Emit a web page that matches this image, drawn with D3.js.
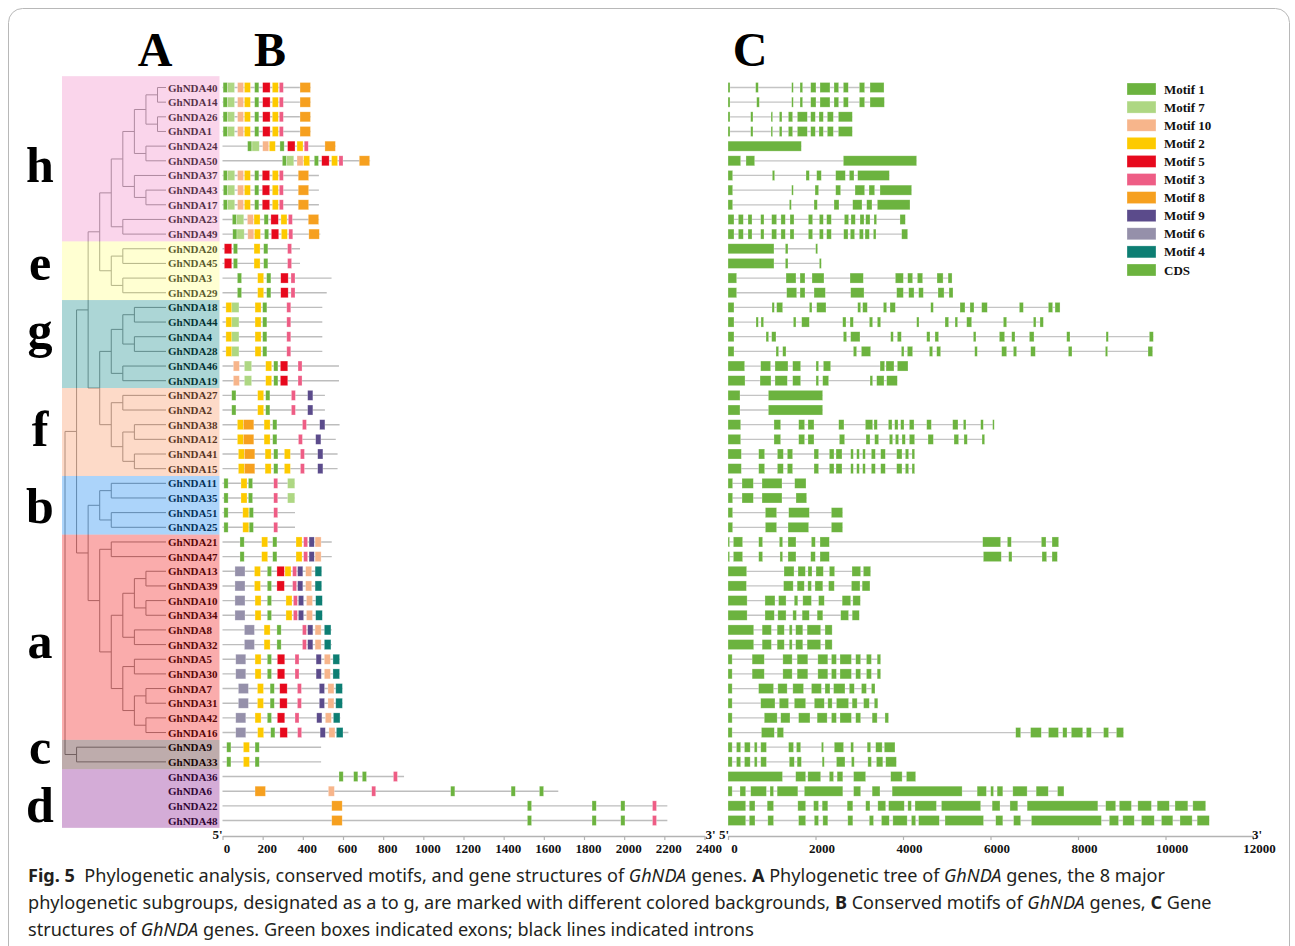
<!DOCTYPE html>
<html>
<head>
<meta charset="utf-8">
<script src="https://cdn.jsdelivr.net/npm/d3@7"></script>
<style>
  html, body { margin: 0; padding: 0; background: #fff; }
  svg { display: block; }
</style>
</head>
<body>
<svg id="fig" width="1295" height="946"></svg>
<script>
// ---------- data ----------

// gene order (top to bottom), as given by the tree leaves
const genes = ["GhNDA40","GhNDA14","GhNDA26","GhNDA1","GhNDA24","GhNDA50","GhNDA37","GhNDA43","GhNDA17","GhNDA23","GhNDA49",
  "GhNDA20","GhNDA45","GhNDA3","GhNDA29",
  "GhNDA18","GhNDA44","GhNDA4","GhNDA28","GhNDA46","GhNDA19",
  "GhNDA27","GhNDA2","GhNDA38","GhNDA12","GhNDA41","GhNDA15",
  "GhNDA11","GhNDA35","GhNDA51","GhNDA25",
  "GhNDA21","GhNDA47","GhNDA13","GhNDA39","GhNDA10","GhNDA34","GhNDA8","GhNDA32","GhNDA5","GhNDA30","GhNDA7","GhNDA31","GhNDA42","GhNDA16",
  "GhNDA9","GhNDA33",
  "GhNDA36","GhNDA6","GhNDA22","GhNDA48"];

// subgroups: letter and number of member genes, in order
const groupNames = ["h","e","g","f","b","a","c","d"];
const groupSizes = [11, 4, 6, 6, 4, 14, 2, 4];

// phylogeny (branch lengths in nodes; default 1)
const treeNewick =
  "(((((((((GhNDA40,GhNDA14),(GhNDA26,GhNDA1)),(GhNDA24,GhNDA50)),(GhNDA37,(GhNDA43,GhNDA17))),(GhNDA23,GhNDA49))," +
  "((GhNDA20,GhNDA45),(GhNDA3,GhNDA29)))," +
  "((((GhNDA18,GhNDA44),(GhNDA4,GhNDA28)),(GhNDA46,GhNDA19)),((GhNDA27,GhNDA2),((GhNDA38,GhNDA12),(GhNDA41,GhNDA15)))))," +
  "(((GhNDA11,GhNDA35),(GhNDA51,GhNDA25)),((GhNDA21,GhNDA47),((((GhNDA13,GhNDA39),(GhNDA10,GhNDA34)),(GhNDA8,GhNDA32)),((GhNDA5,GhNDA30),((GhNDA7,GhNDA31),(GhNDA42,GhNDA16)))))))," +
  "(GhNDA9,GhNDA33)),(GhNDA36,(GhNDA6,(GhNDA22,GhNDA48))):2);";

// protein lengths (aa)
const proteinLengths = [439,439,439,439,563,735,480,480,480,481,487,
  386,386,543,519,
  497,497,497,497,580,580,
  510,510,583,564,573,573,
  360,360,361,361,
  544,544,494,494,497,497,544,544,585,585,598,598,587,627,
  491,491,
  904,1672,2215,2215];

// motif widths (aa)
const motifIds = [1, 7, 10, 2, 5, 3, 8, 9, 6, 4];
const motifWidths = [21, 36, 30, 30, 37, 20, 52, 26, 50, 33];

// motif hits per gene: [motif id, start aa]
const motifHits = [
  [[1,3],[7,24],[10,75],[2,109],[1,160],[5,200],[2,248],[3,283],[8,386]],
  [[1,3],[7,24],[10,75],[2,109],[1,160],[5,200],[2,248],[3,283],[8,386]],
  [[1,3],[7,24],[10,75],[2,109],[1,160],[5,200],[2,248],[3,283],[8,386]],
  [[1,3],[7,24],[10,75],[2,109],[1,160],[5,200],[2,248],[3,283],[8,386]],
  [[1,125],[7,147],[10,200],[2,233],[1,286],[5,324],[2,371],[3,407],[8,510]],
  [[1,298],[7,319],[10,371],[2,404],[1,457],[5,494],[2,543],[3,580],[8,681]],
  [[1,4],[7,25],[10,75],[2,109],[1,160],[5,198],[2,248],[3,283],[8,377]],
  [[1,4],[7,25],[10,75],[2,109],[1,160],[5,198],[2,248],[3,283],[8,377]],
  [[1,4],[7,25],[10,75],[2,109],[1,160],[5,198],[2,248],[3,283],[8,377]],
  [[1,49],[7,70],[10,124],[2,157],[1,207],[5,241],[2,291],[3,328],[8,427]],
  [[1,51],[7,72],[10,126],[2,159],[1,209],[5,243],[2,293],[3,330],[8,430]],
  [[5,9],[1,54],[2,157],[1,205],[3,324]],
  [[5,9],[1,54],[2,157],[1,205],[3,324]],
  [[1,74],[2,175],[1,220],[5,290],[3,341]],
  [[1,74],[2,175],[1,220],[5,290],[3,341]],
  [[2,17],[7,46],[2,162],[1,200],[3,320]],
  [[2,17],[7,46],[2,162],[1,200],[3,320]],
  [[2,17],[7,46],[2,162],[1,200],[3,320]],
  [[2,17],[7,46],[2,162],[1,200],[3,320]],
  [[10,54],[7,109],[2,215],[1,255],[5,288],[3,376]],
  [[10,54],[7,109],[2,215],[1,255],[5,288],[3,376]],
  [[1,46],[2,175],[1,215],[3,343],[9,424]],
  [[1,46],[2,175],[1,215],[3,343],[9,424]],
  [[2,74],[8,104],[2,207],[1,250],[3,398],[9,484]],
  [[2,74],[8,104],[2,207],[1,250],[3,378],[9,464]],
  [[2,79],[8,109],[2,212],[1,255],[2,308],[3,388],[9,474]],
  [[2,79],[8,109],[2,212],[1,255],[2,308],[3,388],[9,474]],
  [[1,7],[2,92],[1,129],[3,255],[7,324]],
  [[1,7],[2,92],[1,129],[3,255],[7,324]],
  [[1,7],[2,101],[1,133],[3,255]],
  [[1,7],[2,101],[1,133],[3,255]],
  [[1,87],[2,195],[1,250],[2,366],[3,404],[9,431],[10,461]],
  [[1,87],[2,195],[1,250],[2,366],[3,404],[9,431],[10,461]],
  [[6,62],[2,159],[1,223],[5,271],[2,311],[3,349],[9,374],[10,414],[4,461]],
  [[6,62],[2,159],[1,223],[5,271],[3,349],[9,374],[10,414],[4,461]],
  [[6,62],[2,162],[1,223],[2,316],[3,353],[9,378],[10,418],[4,464]],
  [[6,62],[2,162],[1,223],[2,316],[3,353],[9,378],[10,418],[4,464]],
  [[6,109],[2,207],[1,271],[3,398],[9,424],[10,461],[4,507]],
  [[6,109],[2,207],[1,271],[3,398],[9,424],[10,461],[4,507]],
  [[6,66],[2,162],[1,223],[5,273],[3,361],[9,466],[10,507],[4,550]],
  [[6,66],[2,162],[1,223],[5,273],[3,361],[9,466],[10,507],[4,550]],
  [[6,79],[2,174],[1,237],[5,285],[3,373],[9,482],[10,525],[4,564]],
  [[6,79],[2,174],[1,237],[5,285],[3,373],[9,482],[10,525],[4,564]],
  [[6,66],[2,162],[1,223],[5,273],[3,361],[9,469],[10,512],[4,552]],
  [[6,66],[2,175],[1,240],[5,286],[3,374],[9,486],[10,530],[4,567]],
  [[1,21],[2,104],[1,162]],
  [[1,21],[2,104],[1,162]],
  [[1,580],[1,653],[1,696],[3,851]],
  [[8,162],[10,527],[3,743],[1,1136],[1,1437],[1,1578]],
  [[8,544],[1,1518],[1,1840],[1,1983],[3,2141]],
  [[8,544],[1,1518],[1,1840],[1,1983],[3,2141]]
];

// exon coordinates per gene (bp, from 5' end): [start, end]
const exons = [
  [[0,46],[632,693],[1455,1493],[1646,1707],[1890,2011],[2103,2331],[2423,2530],[2636,2750],[3002,3124],[3246,3566]],
  [[0,46],[655,716],[1455,1493],[1646,1707],[1890,2011],[2103,2331],[2423,2530],[2636,2750],[3002,3124],[3246,3574]],
  [[0,46],[518,571],[983,1021],[1173,1234],[1379,1478],[1585,1813],[1890,1996],[2080,2179],[2270,2408],[2522,2842]],
  [[0,46],[518,571],[983,1021],[1173,1234],[1379,1478],[1585,1813],[1890,1996],[2080,2179],[2270,2408],[2522,2842]],
  [[0,1676]],
  [[0,290],[411,610],[2636,4312]],
  [[0,107],[1013,1067],[1783,1859],[2027,2133],[2461,2682],[2773,2880],[2964,3688]],
  [[0,107],[1455,1493],[1989,2072],[2461,2575],[2903,3124],[3223,3353],[3474,4198]],
  [[0,107],[1402,1448],[1966,2042],[2423,2537],[2850,3063],[3170,3291],[3413,4160]],
  [[0,137],[236,350],[457,549],[747,823],[998,1112],[1210,1310],[1417,1509],[1836,1935],[2088,2179],[2255,2362],[2659,2758],[2811,2910],[3017,3109],[3147,3246],[3337,3398],[3931,4053]],
  [[0,137],[236,350],[457,549],[747,823],[998,1112],[1210,1310],[1417,1509],[1836,1935],[2088,2179],[2255,2362],[2644,2743],[2796,2895],[3002,3094],[3132,3231],[3322,3383],[3970,4107]],
  [[0,1051],[1310,1371],[2004,2049]],
  [[0,1051],[1310,1371],[2088,2133]],
  [[0,198],[1326,1554],[1646,1760],[1920,2194],[2789,3093],[3825,4008],[4107,4221],[4328,4450],[4777,4916],[5030,5121]],
  [[0,198],[1341,1570],[1646,1760],[1966,2225],[2804,3109],[3855,4008],[4130,4252],[4358,4465],[4800,4938],[5052,5143]],
  [[0,137],[1006,1059],[1112,1250],[1859,1920],[2027,2240],[2964,3033],[3078,3185],[3551,3627],[3703,3825],[4633,4694],[5303,5417],[5531,5623],[5798,5927],[6659,6751],[7322,7421],[7475,7589]],
  [[0,137],[640,693],[754,815],[1493,1554],[1684,1859],[2621,2697],[2789,2865],[3231,3307],[3413,3490],[4312,4366],[4960,5044],[5189,5250],[5455,5570],[6293,6370],[6979,7040],[7131,7208]],
  [[0,137],[869,930],[998,1097],[2636,2712],[2803,3017],[3718,3779],[3870,3962],[4541,4617],[4731,4815],[5607,5668],[6202,6324],[6484,6560],[6888,6995],[7741,7817],[8641,8694],[9630,9722]],
  [[0,137],[1097,1158],[1250,1326],[2865,2941],[3048,3261],[3962,4023],[4099,4221],[4602,4678],[4770,4861],[5638,5699],[6255,6370],[6522,6598],[6918,7025],[7779,7863],[8625,8678],[9600,9707]],
  [[0,381],[747,975],[1074,1371],[1478,1661],[2011,2072],[2179,2347],[3475,3581],[3612,3794],[3870,4114]],
  [[0,389],[732,983],[1074,1356],[1478,1661],[2011,2072],[2164,2301],[3246,3307],[3398,3566],[3627,3870]],
  [[0,274],[922,2164]],
  [[0,274],[922,2164]],
  [[0,290],[1051,1204],[1615,1752],[1828,1966],[2530,2651],[3139,3307],[3337,3413],[3665,3749],[3810,3886],[3947,4023],[4145,4252],[4541,4648],[5135,5257],[5379,5440],[5775,5836],[6049,6080]],
  [[0,290],[1051,1204],[1615,1752],[1828,1966],[2545,2667],[3154,3246],[3352,3444],[3688,3764],[3825,3901],[3977,4053],[4145,4267],[4572,4694],[5166,5272],[5394,5470],[5806,5867]],
  [[0,305],[701,838],[1128,1265],[1356,1478],[1966,2072],[2316,2423],[2469,2606],[2804,2865],[2941,3002],[3078,3139],[3276,3368],[3490,3596],[3855,3977],[4053,4130],[4206,4267]],
  [[0,305],[701,838],[1128,1265],[1356,1478],[1966,2072],[2316,2423],[2469,2606],[2804,2865],[2941,3002],[3078,3139],[3276,3368],[3490,3596],[3855,3977],[4053,4130],[4206,4267]],
  [[0,107],[320,579],[777,1234],[1524,1783]],
  [[0,107],[320,579],[777,1234],[1554,1798]],
  [[0,107],[853,1112],[1387,1859],[2362,2621]],
  [[0,107],[853,1112],[1372,1844],[2362,2621]],
  [[0,30],[122,335],[701,792],[1173,1250],[1371,1554],[1905,1996],[2103,2316],[5821,6232],[6385,6476],[7162,7269],[7406,7558]],
  [[0,30],[122,335],[701,792],[1188,1250],[1371,1554],[1890,1996],[2103,2316],[5836,6247],[6415,6491],[7177,7284],[7406,7528]],
  [[0,427],[1280,1509],[1600,1768],[1828,1920],[2011,2179],[2316,2438],[2834,3032],[3093,3261]],
  [[0,421],[1270,1490],[1580,1743],[1825,1907],[1988,2168],[2298,2429],[2821,3017],[3066,3245]],
  [[0,437],[845,1074],[1156,1327],[1514,1596],[1710,1907],[2070,2201],[2609,2805],[2854,3025]],
  [[0,437],[845,1058],[1140,1327],[1482,1564],[1694,1858],[2037,2168],[2576,2756],[2838,3001]],
  [[0,588],[780,992],[1123,1286],[1400,1466],[1547,1710],[1808,2119],[2217,2380]],
  [[0,588],[780,992],[1123,1286],[1400,1466],[1547,1710],[1808,2119],[2217,2380]],
  [[0,95],[551,829],[1254,1466],[1580,1825],[2054,2282],[2364,2478],[2560,2821],[2919,3033],[3164,3278],[3409,3490]],
  [[0,95],[551,829],[1254,1466],[1580,1825],[2054,2282],[2364,2478],[2560,2821],[2919,3033],[3164,3278],[3409,3490]],
  [[0,95],[699,1042],[1140,1352],[1482,1727],[1907,2135],[2217,2331],[2413,2674],[2772,2887],[3050,3164],[3278,3360]],
  [[0,95],[748,1074],[1172,1384],[1515,1776],[1972,2201],[2282,2380],[2478,2756],[2837,2952],[3099,3229],[3343,3425]],
  [[0,95],[829,1123],[1205,1417],[1613,1874],[2037,2266],[2364,2478],[2560,2821],[2919,3033],[3294,3409],[3588,3670]],
  [[0,95],[764,1058],[1123,1270],[6576,6690],[6916,7161],[7324,7553],[7651,7749],[7847,8108],[8190,8304],[8584,8699],[8878,9041]],
  [[0,95],[193,290],[376,507],[601,666],[749,879],[1384,1498],[1564,1662],[2135,2184],[2429,2642],[2805,2870],[3180,3262],[3376,3523],[3572,3817]],
  [[0,95],[193,290],[376,507],[601,666],[749,879],[1400,1515],[1580,1678],[2152,2201],[2478,2674],[2821,2886],[3197,3278],[3392,3539],[3605,3849]],
  [[0,1246],[1547,1776],[1825,2119],[2315,2413],[2494,2625],[2870,3147],[3719,3980],[4078,4290]],
  [[0,95],[274,405],[519,878],[960,1042],[1123,1597],[1744,2625],[2870,3033],[3294,3474],[3751,5351],[5694,5906],[6004,6070],[6151,6282],[6510,6837],[7043,7320],[7532,7679]],
  [[0,405],[486,617],[895,1042],[1596,1776],[1956,2070],[2152,2282],[2723,2854],[3147,3245],[3425,3605],[3670,4029],[4111,4192],[4274,4764],[4878,5776],[6037,6217],[6445,6624],[6837,8454],[8633,8862],[8944,9221],[9368,9678],[9809,10087],[10217,10511],[10625,10919]],
  [[0,405],[486,617],[911,1042],[1613,1776],[1972,2070],[2168,2282],[2739,2854],[3229,3327],[3507,3686],[3768,4095],[4192,4290],[4356,4830],[4960,5841],[6119,6282],[6527,6690],[6935,8535],[8715,8927],[9025,9286],[9450,9743],[9907,10168],[10331,10609],[10723,11001]]
];

// axis ticks
const motifTicks = d3.range(0, 2401, 200);
const structTicks = d3.range(0, 12001, 2000);
const legendLabels = ["Motif 1","Motif 7","Motif 10","Motif 2","Motif 5","Motif 3","Motif 8","Motif 9","Motif 6","Motif 4","CDS"];

// ---------- styles ----------
const SERIF = "'Liberation Serif','Times New Roman',serif";
const motifColor = {1:"#6cb33f", 7:"#aed783", 10:"#f7b58b", 2:"#fdca00", 5:"#e7091d", 3:"#ee5d85", 8:"#f6a01f", 9:"#5b4b8b", 6:"#9590aa", 4:"#0d7e73"};
const cdsColor = "#6cb33f";
// group overlay colours, drawn translucent over the tree and names
const groupColor = {h:"#f087c6", e:"#ffff7e", g:"#128a8a", f:"#f99562", b:"#1284f0", a:"#f01212", c:"#451212", d:"#84128d"};
const overlayAlpha = 0.35;

// ---------- layout ----------
const svg = d3.select("#fig");
const rowTop = 87.5, rowBottom = 820.5;
const y = d3.scalePoint().domain(genes).range([rowTop, rowBottom]);
const rowStep = y.step();
const boxH = 10;

const xMotif = d3.scaleLinear().domain([0, 2400]).range([222.5, 704.5]);
const xStruct = d3.scaleLinear().domain([0, 12000]).range([728, 1253]);
const axisY = 836;

// frame
svg.append("rect")
  .attr("x", 8.5).attr("y", 8.5).attr("width", 1281).attr("height", 1000).attr("rx", 14)
  .attr("fill", "none").attr("stroke", "#b8b8b8").attr("stroke-width", 1);

// ---------- A: tree ----------
function parseNewick(s) {
  let i = 0;
  function node() {
    const n = {};
    if (s[i] === "(") {
      i++;
      n.children = [];
      while (true) {
        n.children.push(node());
        if (s[i] === ",") { i++; continue; }
        break;
      }
      i++; // ')'
    }
    let name = "";
    while (i < s.length && !",():;".includes(s[i])) name += s[i++];
    if (name) n.name = name;
    n.length = 1;
    if (s[i] === ":") {
      i++;
      let num = "";
      while (i < s.length && !",();".includes(s[i])) num += s[i++];
      n.length = +num;
    }
    return n;
  }
  return node();
}

const root = d3.hierarchy(parseNewick(treeNewick));
root.eachBefore(d => { d.dist = d.parent ? d.parent.dist + d.data.length : 0; });
const maxDist = d3.max(root.descendants().filter(d => d.children), d => d.dist);
const xTree = d3.scaleLinear().domain([0, maxDist]).range([65, 157.5]);
const leafEnd = 166;
root.eachAfter(d => {
  if (d.children) {
    d.py = d3.mean(d.children, c => c.py);
    d.px = xTree(d.dist);
  } else {
    d.py = y(d.data.name);
    d.px = leafEnd;
  }
});

const treeG = svg.append("g").attr("stroke", "#8c8c8c").attr("stroke-width", 1).attr("fill", "none");
root.descendants().forEach(d => {
  if (d.parent) {
    treeG.append("line").attr("x1", d.parent.px).attr("x2", d.px).attr("y1", d.py).attr("y2", d.py);
  }
  if (d.children) {
    const ys = d.children.map(c => c.py);
    treeG.append("line").attr("x1", d.px).attr("x2", d.px).attr("y1", d3.min(ys)).attr("y2", d3.max(ys));
  }
});

svg.append("g").selectAll("text").data(genes).join("text")
  .attr("x", 168).attr("y", g => y(g) + 4)
  .attr("font-family", SERIF).attr("font-weight", "bold").attr("font-size", 11)
  .attr("fill", "#000").text(g => g);

// group bands laid over tree and names
const bandX0 = 62, bandX1 = 219.5;
let idx = 0;
const bands = groupNames.map((name, k) => {
  const first = genes[idx], last = genes[idx + groupSizes[k] - 1];
  idx += groupSizes[k];
  let top = y(first) - rowStep / 2;
  const bottom = y(last) + rowStep / 2;
  if (k === 0) top -= 4;
  return {name, top, bottom};
});
svg.append("g").selectAll("rect").data(bands).join("rect")
  .attr("x", bandX0).attr("width", bandX1 - bandX0)
  .attr("y", d => d.top).attr("height", d => d.bottom - d.top)
  .attr("fill", d => groupColor[d.name]).attr("fill-opacity", overlayAlpha);

// subgroup letters, glyph roughly centred on each band
const LETTER = 50;
const glyphShift = {h:0.34, f:0.34, b:0.34, d:0.34, e:0.23, a:0.23, c:0.23, g:0.12};
const letterNudge = {h:6, a:9, d:6, e:-2, g:-3, f:-3, b:1, c:-2};
svg.append("g").selectAll("text").data(bands).join("text")
  .attr("x", 40)
  .attr("y", d => (d.top + d.bottom) / 2 + glyphShift[d.name] * LETTER + letterNudge[d.name])
  .attr("text-anchor", "middle")
  .attr("font-family", SERIF).attr("font-weight", "bold").attr("font-size", LETTER)
  .attr("fill", "#000").text(d => d.name);

// panel letters
svg.append("g").selectAll("text").data([["A",155],["B",270],["C",750]]).join("text")
  .attr("x", d => d[1]).attr("y", 66).attr("text-anchor", "middle")
  .attr("font-family", SERIF).attr("font-weight", "bold").attr("font-size", 48)
  .attr("fill", "#000").text(d => d[0]);

// ---------- B: motifs ----------
const motifW = new Map(motifIds.map((m, i) => [m, motifWidths[i]]));
const gB = svg.append("g");
genes.forEach((g, i) => {
  const yy = y(g);
  gB.append("line")
    .attr("x1", xMotif(0)).attr("x2", xMotif(proteinLengths[i]))
    .attr("y1", yy).attr("y2", yy)
    .attr("stroke", "#bdbdbd").attr("stroke-width", 1.4);
  gB.selectAll(null).data(motifHits[i]).join("rect")
    .attr("x", d => xMotif(d[1]))
    .attr("width", d => xMotif(d[1] + motifW.get(d[0])) - xMotif(d[1]))
    .attr("y", yy - boxH / 2).attr("height", boxH)
    .attr("fill", d => motifColor[d[0]])
    .attr("stroke", "rgba(255,255,255,0.45)").attr("stroke-width", 0.6);
});

// ---------- C: gene structures ----------
const gC = svg.append("g");
genes.forEach((g, i) => {
  const yy = y(g);
  const ex = exons[i];
  gC.append("line")
    .attr("x1", xStruct(0)).attr("x2", xStruct(ex[ex.length - 1][1]))
    .attr("y1", yy).attr("y2", yy)
    .attr("stroke", "#c4c4c4").attr("stroke-width", 1.3);
  gC.selectAll(null).data(ex).join("rect")
    .attr("x", d => xStruct(d[0]))
    .attr("width", d => Math.max(1.6, xStruct(d[1]) - xStruct(d[0])))
    .attr("y", yy - boxH / 2).attr("height", boxH)
    .attr("fill", cdsColor)
    .attr("stroke", "rgba(255,255,255,0.45)").attr("stroke-width", 0.6);
});

// ---------- axes ----------
function styleAxis(sel, dx) {
  sel.select(".domain").attr("stroke", "#b3b3b3").attr("stroke-width", 1.4);
  sel.selectAll(".tick line").attr("stroke", "#b3b3b3").attr("stroke-width", 1.2);
  sel.selectAll(".tick text")
    .attr("font-family", SERIF).attr("font-weight", "bold").attr("font-size", 13)
    .attr("fill", "#111").attr("dx", dx).attr("dy", "0.8em");
}
svg.append("g").attr("transform", `translate(0,${axisY})`)
  .call(d3.axisBottom(xMotif).tickValues(motifTicks).tickSize(4).tickSizeOuter(0).tickFormat(d3.format("d")))
  .call(s => styleAxis(s, 4));
svg.append("g").attr("transform", `translate(0,${axisY})`)
  .call(d3.axisBottom(xStruct).tickValues(structTicks).tickSize(4).tickSizeOuter(0).tickFormat(d3.format("d")))
  .call(s => styleAxis(s, 6));

// strand ends, set just above the tick labels
const ends = [
  [xMotif(0), "end", "5'"], [xMotif(2400) + 1, "start", "3'"],
  [xStruct(0) + 1, "end", "5'"], [xStruct(12000) - 1, "start", "3'"]
];
svg.append("g").selectAll("text").data(ends).join("text")
  .attr("x", d => d[0]).attr("y", axisY + 3).attr("text-anchor", d => d[1])
  .attr("font-family", SERIF).attr("font-weight", "bold").attr("font-size", 13)
  .attr("fill", "#111").text(d => d[2]);

// ---------- legend ----------
const legendColors = motifIds.map(m => motifColor[m]).concat([cdsColor]);
const lg = svg.append("g");
legendLabels.forEach((lab, i) => {
  const cy = 89 + i * 18.1;
  lg.append("rect").attr("x", 1127).attr("y", cy - 6).attr("width", 29).attr("height", 12)
    .attr("fill", legendColors[i]).attr("stroke", "rgba(255,255,255,0.5)").attr("stroke-width", 0.6);
  lg.append("text").attr("x", 1164).attr("y", cy + 4.5)
    .attr("font-family", SERIF).attr("font-weight", "bold").attr("font-size", 13)
    .attr("fill", "#111").text(lab);
});

// ---------- caption ----------
const captionLines = [
  [["b","Fig. 5"],["n","  Phylogenetic analysis, conserved motifs, and gene structures of "],["i","GhNDA"],["n"," genes. "],["b","A"],["n"," Phylogenetic tree of "],["i","GhNDA"],["n"," genes, the 8 major"]],
  [["n","phylogenetic subgroups, designated as a to g, are marked with different colored backgrounds, "],["b","B"],["n"," Conserved motifs of "],["i","GhNDA"],["n"," genes, "],["b","C"],["n"," Gene"]],
  [["n","structures of "],["i","GhNDA"],["n"," genes. Green boxes indicated exons; black lines indicated introns"]]
];
const cap = svg.append("g")
  .attr("font-family", "'Noto Sans','Open Sans',sans-serif").attr("font-size", 18.1).attr("fill", "#231f20");
captionLines.forEach((parts, li) => {
  const t = cap.append("text").attr("x", 28).attr("y", 882 + li * 27).attr("xml:space", "preserve");
  parts.forEach(([k, s]) => {
    const sp = t.append("tspan").text(s);
    if (k === "b") sp.attr("font-weight", "bold");
    if (k === "i") sp.attr("font-style", "italic");
  });
});
</script>
</body>
</html>
